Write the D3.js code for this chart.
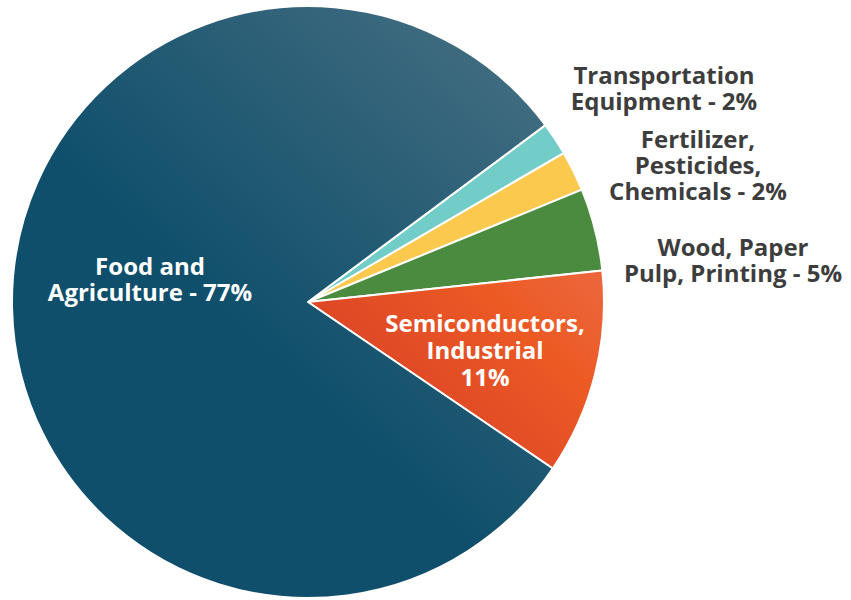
<!DOCTYPE html>
<html>
<head>
<meta charset="utf-8">
<script src="https://d3js.org/d3.v7.min.js"></script>
<style>
  body { margin: 0; background: #fff; }
  text { font-family: "Open Sans", sans-serif; font-weight: 700; }
</style>
</head>
<body>
<div id="chart"></div>
<script>
  // slices clockwise, starting at the top-right wedge
  var categories = ["Transportation Equipment", "Fertilizer, Pesticides, Chemicals",
    "Wood, Paper Pulp, Printing", "Semiconductors, Industrial", "Food and Agriculture"];
  var values = [1.8, 2.2, 4.5, 11.2, 80.3];
  var labelLines = [
    ["Transportation", "Equipment - 2%"],
    ["Fertilizer,", "Pesticides,", "Chemicals - 2%"],
    ["Wood, Paper", "Pulp, Printing - 5%"],
    ["Semiconductors,", "Industrial", "11%"],
    ["Food and", "Agriculture - 77%"]
  ];
  var colors = ["#72cdc9", "#fcc94f", "#4b8b3f", "url(#semi-grad)", "url(#food-grad)"];

  var width = 851, height = 600;
  var cx = 308, cy = 302, radius = 296;

  var svg = d3.select("#chart").append("svg")
    .attr("width", width)
    .attr("height", height);

  var defs = svg.append("defs");

  var food = defs.append("linearGradient")
    .attr("id", "food-grad")
    .attr("gradientUnits", "userSpaceOnUse")
    .attr("x1", cx + 230).attr("y1", cy - 250)
    .attr("x2", cx - 40).attr("y2", cy + 40);
  food.append("stop").attr("offset", "0%").attr("stop-color", "#436d81");
  food.append("stop").attr("offset", "100%").attr("stop-color", "#0f4f6b");

  var semi = defs.append("linearGradient")
    .attr("id", "semi-grad")
    .attr("gradientUnits", "userSpaceOnUse")
    .attr("x1", cx + 300).attr("y1", cy - 30)
    .attr("x2", cx + 120).attr("y2", cy + 150);
  semi.append("stop").attr("offset", "0%").attr("stop-color", "#ec6840");
  semi.append("stop").attr("offset", "40%").attr("stop-color", "#ec5a24");
  semi.append("stop").attr("offset", "100%").attr("stop-color", "#dc4527");

  var pie = d3.pie()
    .sort(null)
    .startAngle(53.3 * Math.PI / 180)
    .endAngle(53.3 * Math.PI / 180 + 2 * Math.PI);

  var arc = d3.arc().innerRadius(0).outerRadius(radius);

  var g = svg.append("g")
    .attr("transform", "translate(" + cx + "," + cy + ")");

  g.selectAll(".slice")
    .data(pie(values))
    .enter().append("path")
    .attr("class", "slice")
    .attr("d", arc)
    .attr("fill", function(d, i) { return colors[i]; })
    .attr("stroke", "#fff")
    .attr("stroke-width", 2)
    .attr("stroke-linejoin", "round");

  // label anchor points (centre x, first baseline y), and colours
  var labelPos = [[664, 84], [698, 148], [733, 256], [485, 332], [150, 275]];
  var labelColor = ["#3d3d3d", "#3d3d3d", "#3d3d3d", "#fff", "#fff"];

  labelLines.forEach(function(lines, i) {
    var step = i === 3 ? 27 : 26;
    svg.selectAll(".label-" + i)
      .data(lines)
      .enter().append("text")
      .attr("class", "label-" + i)
      .attr("text-anchor", "middle")
      .attr("font-size", 24)
      .attr("fill", labelColor[i])
      .attr("x", labelPos[i][0])
      .attr("y", function(d, j) { return labelPos[i][1] + j * step; })
      .text(function(d) { return d; });
  });
</script>
</body>
</html>
